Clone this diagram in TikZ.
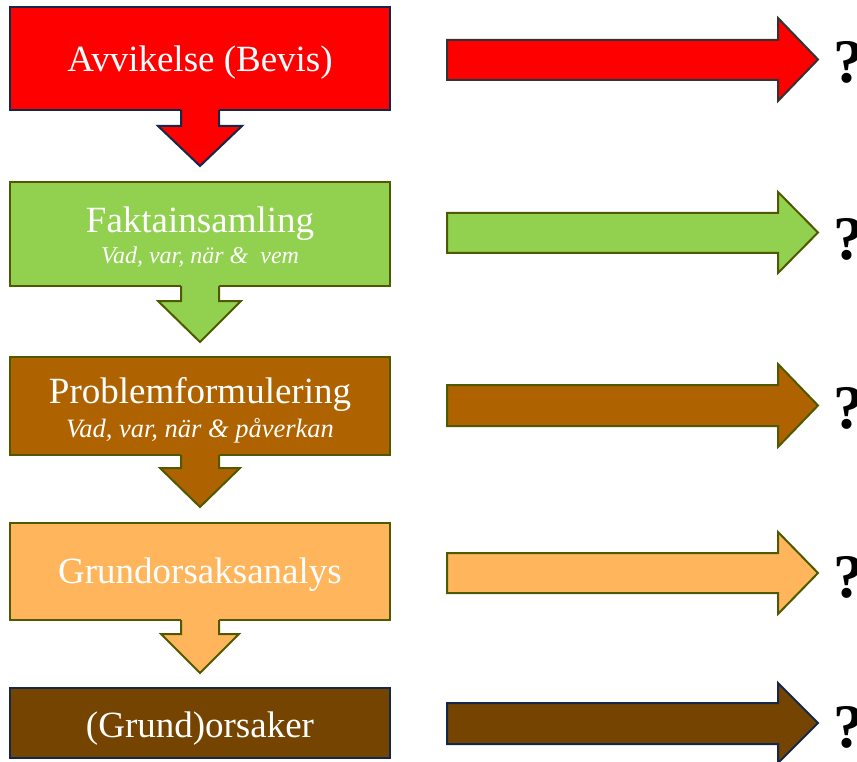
\documentclass[tikz,border=0pt]{standalone}
\usepackage{fontspec}
\setmainfont{Liberation Serif}
\definecolor{cRed}{HTML}{FF0000}
\definecolor{cGreen}{HTML}{92D050}
\definecolor{cBrown}{HTML}{AF6200}
\definecolor{cOrange}{HTML}{FFB55B}
\definecolor{cDark}{HTML}{744400}
\definecolor{lNavy}{HTML}{14284B}
\definecolor{lOlive}{HTML}{4F5A00}
\definecolor{lGray}{HTML}{333333}
\tikzset{
  boxstyle/.style={line width=2pt},
  titletext/.style={text=white,font=\fontsize{37}{40}\selectfont,anchor=base},
  subtext/.style={text=white,font=\fontsize{24}{26}\selectfont\itshape,anchor=base},
  subtextbig/.style={text=white,font=\fontsize{26.5}{28}\selectfont\itshape,anchor=base},
  qmark/.style={font=\fontsize{62}{64}\selectfont\bfseries,anchor=base west,inner sep=0pt},
}
\newcommand{\mydownarrow}[7]{% top, wing y, tip y, fill, line, wingL, wingR
  \fill[#4] (181,#1-2) -- (181,#2) -- (#6,#2) -- (200,#3) -- (#7,#2) -- (219,#2) -- (219,#1-2) -- cycle;
  \draw[boxstyle,draw=#5,line join=miter] (181,#1) -- (181,#2) -- (#6,#2) -- (200,#3) -- (#7,#2) -- (219,#2) -- (219,#1);
}
\newcommand{\myrightarrow}[6]{% shaft top, shaft bottom, head top, head bottom, fill, line
  \draw[boxstyle,fill=#5,draw=#6,line join=miter] (447,#1) -- (778,#1) -- (778,#3) -- (818,{(#3+#4)/2}) -- (778,#4) -- (778,#2) -- (447,#2) -- cycle;
}
\begin{document}
\begin{tikzpicture}[x=1pt,y=-1pt]
\useasboundingbox (0,0) rectangle (857,762);
% boxes
\draw[boxstyle,fill=cRed,draw=lNavy] (10,7) rectangle (390,110);
\node[titletext] (t1) at (200,72) {Avvikelse (Bevis)};
\draw[boxstyle,fill=cGreen,draw=lOlive] (10,182) rectangle (390,286);
\node[titletext] (t2) at (200,233) {Faktainsamling};
\node[subtext] (s2) at (200,264) {Vad, var, när \&\ \ vem};
\draw[boxstyle,fill=cBrown,draw=lOlive] (10,357) rectangle (390,455);
\node[titletext] (t3) at (200,403) {Problemformulering};
\node[subtextbig] (s3) at (200,437) {Vad, var, när \& påverkan};
\draw[boxstyle,fill=cOrange,draw=lOlive] (10,523) rectangle (390,620);
\node[titletext] (t4) at (200,583) {Grundorsaksanalys};
\draw[boxstyle,fill=cDark,draw=lNavy] (10,688) rectangle (390,758);
\node[titletext] (t5) at (200,737) {(Grund)orsaker};
% down arrows
\mydownarrow{110}{126}{166}{cRed}{lNavy}{158}{242}
\mydownarrow{286}{301}{342}{cGreen}{lOlive}{158}{241}
\mydownarrow{455}{468}{507}{cBrown}{lOlive}{160}{240}
\mydownarrow{620}{634}{673}{cOrange}{lOlive}{161}{239}
% right arrows
\myrightarrow{40}{80}{18}{101}{cRed}{lGray}
\myrightarrow{213}{253}{192}{273}{cGreen}{lOlive}
\myrightarrow{385}{426}{364}{447}{cBrown}{lOlive}
\myrightarrow{553}{593}{532}{614}{cOrange}{lOlive}
\myrightarrow{703}{744}{683}{763}{cDark}{lNavy}
% question marks
\node[qmark] (q1) at (833,83) {?};
\node[qmark] (q2) at (833,260) {?};
\node[qmark] (q3) at (833,428) {?};
\node[qmark] (q4) at (833,597) {?};
\node[qmark] (q5) at (833,747) {?};
\end{tikzpicture}
\end{document}
